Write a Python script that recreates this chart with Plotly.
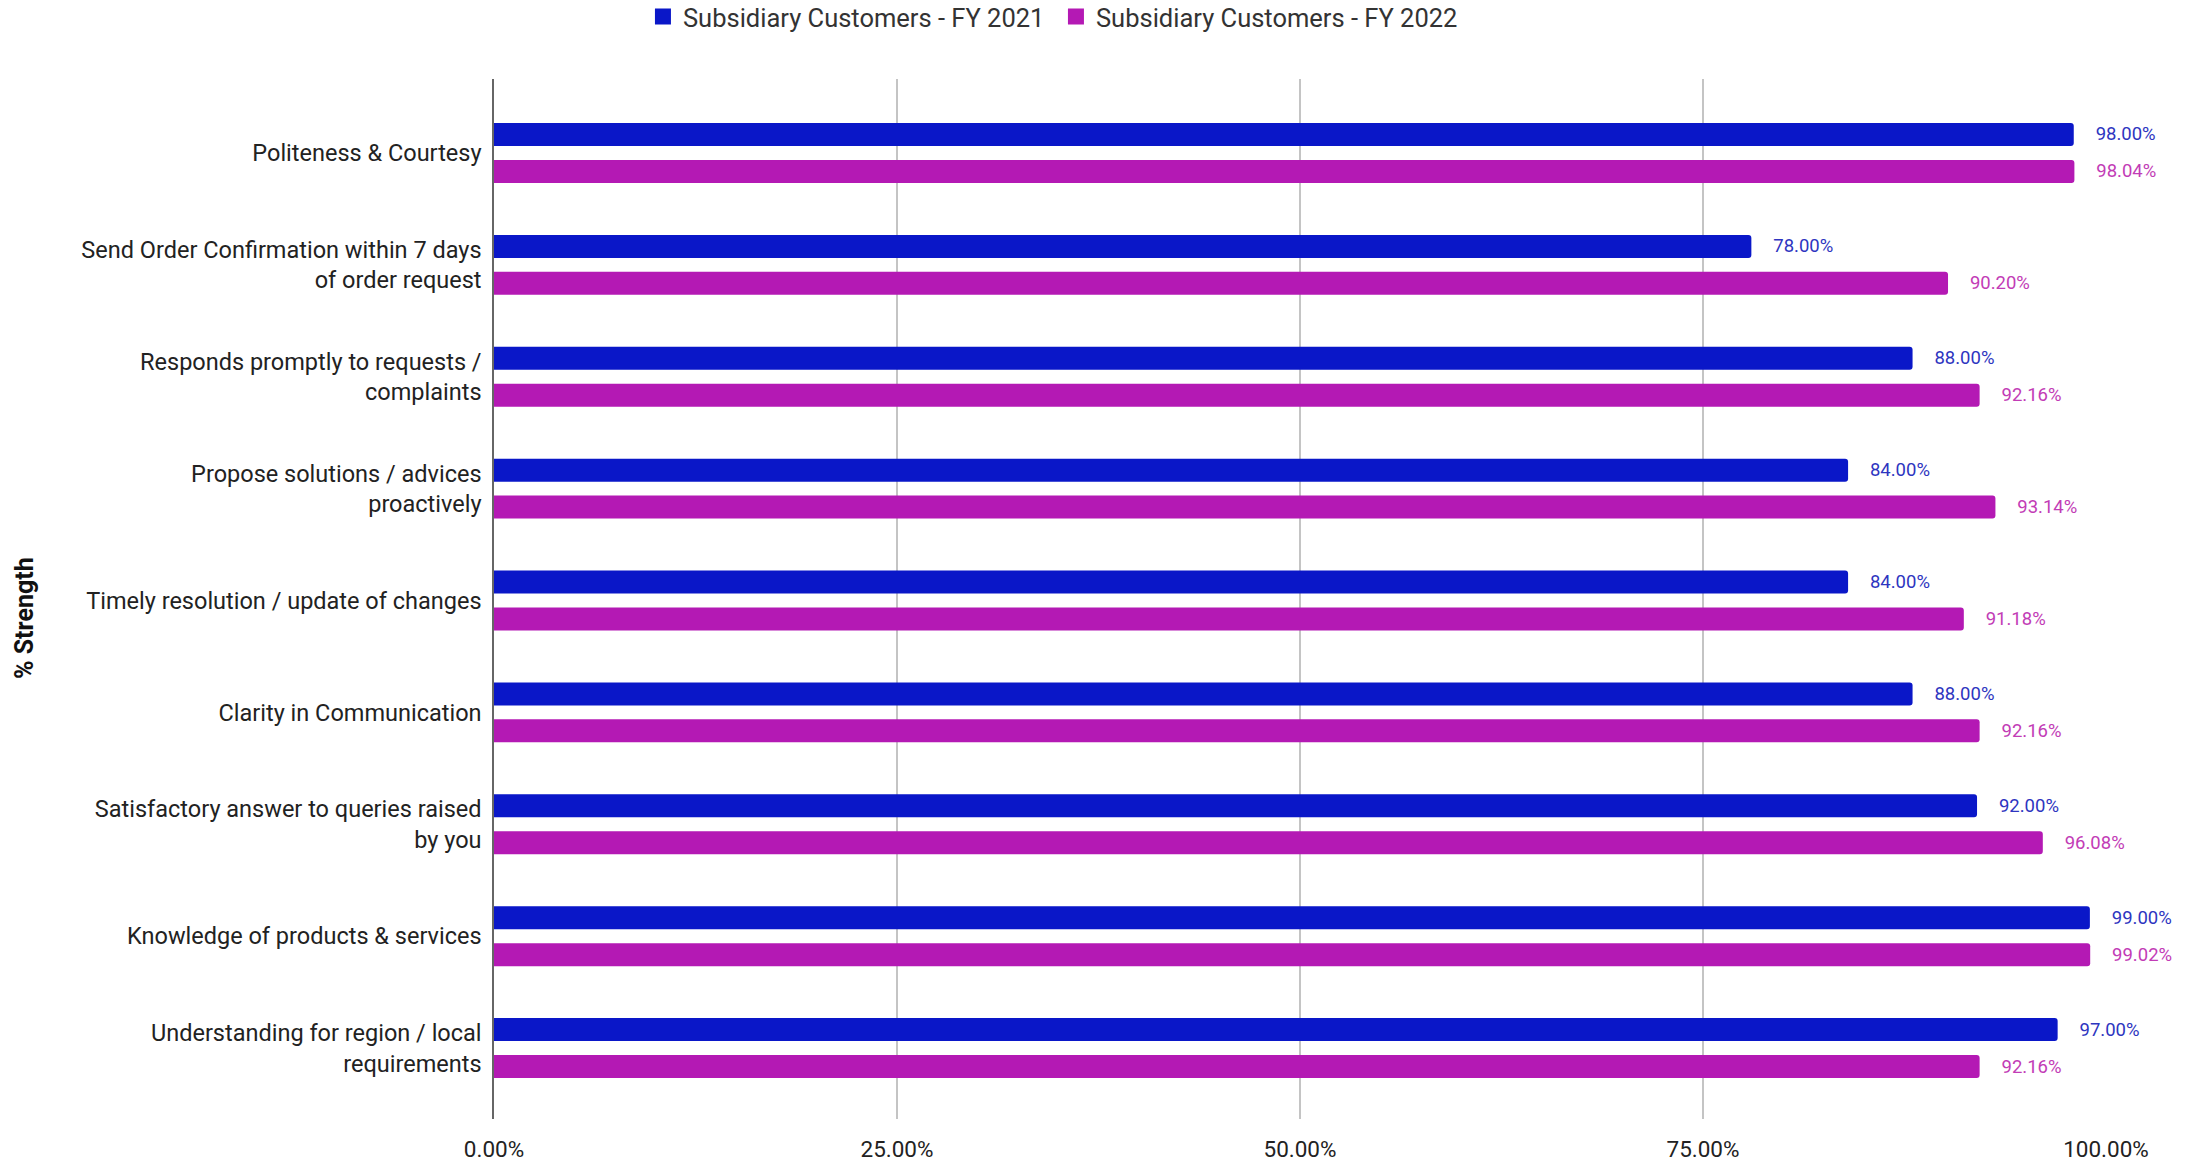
import plotly.graph_objects as go

# Survey attributes, top to bottom
categories = [
    "Politeness & Courtesy",
    "Send Order Confirmation within 7 days<br>of order request",
    "Responds promptly to requests /<br>complaints",
    "Propose solutions / advices<br>proactively",
    "Timely resolution / update of changes",
    "Clarity in Communication",
    "Satisfactory answer to queries raised<br>by you",
    "Knowledge of products & services",
    "Understanding for region / local<br>requirements",
]

# % strength per attribute
fy2021 = [98.00, 78.00, 88.00, 84.00, 84.00, 88.00, 92.00, 99.00, 97.00]
fy2022 = [98.04, 90.20, 92.16, 93.14, 91.18, 92.16, 96.08, 99.02, 92.16]

series_names = ["Subsidiary Customers - FY 2021", "Subsidiary Customers - FY 2022"]
tick_values = [0, 25, 50, 75, 100]
tick_labels = ["0.00%", "25.00%", "50.00%", "75.00%", "100.00%"]

bar_colors = ["#0a17c8", "#b419b4"]
label_colors = ["#2e35c0", "#c23cb6"]

FONT = "Roboto"
PAD = "\u2002\u2002"

fig = go.Figure()
for name, vals, col, lcol in zip(series_names, [fy2021, fy2022], bar_colors, label_colors):
    fig.add_trace(go.Bar(
        name=name,
        y=categories,
        x=vals,
        orientation="h",
        marker=dict(color=col, line=dict(width=0), cornerradius=3),
        text=[f"{PAD}{v:.2f}%" for v in vals],
        textposition="outside",
        constraintext="none",
        cliponaxis=False,
        textfont=dict(family=FONT, size=18.5, color=lcol, shadow="0px 0px 3px white"),
        hoverinfo="skip",
        showlegend=False,
    ))

# square swatches for the legend
for name, col in zip(series_names, bar_colors):
    fig.add_trace(go.Scatter(
        name=name,
        x=[None], y=[None],
        mode="markers",
        marker=dict(symbol="square", size=16, color=col),
        hoverinfo="skip",
    ))

fig.update_layout(
    width=2202,
    height=1162,
    paper_bgcolor="white",
    plot_bgcolor="white",
    barmode="group",
    bargap=0.34,
    bargroupgap=0.377,
    margin=dict(l=494, r=96, t=79, b=43, autoexpand=False),
    font=dict(family=FONT, color="#222222"),
    legend=dict(
        orientation="h",
        x=0.0924, xanchor="left",
        y=1.0596, yref="paper", yanchor="middle",
        font=dict(family=FONT, size=25.5, color="#333333"),
        itemsizing="trace",
        traceorder="normal",
        entrywidth=368,
        entrywidthmode="pixels",
    ),
    xaxis=dict(
        range=[0, 100],
        tickvals=tick_values,
        ticktext=tick_labels,
        showgrid=True,
        gridcolor="#c4c4c4",
        gridwidth=1.5,
        zeroline=False,
        showline=False,
        ticks="",
        ticklabelstandoff=14,
        automargin=False,
        tickfont=dict(family=FONT, size=22.5, color="#222222"),
    ),
    yaxis=dict(
        type="category",
        categoryorder="array",
        categoryarray=categories,
        range=[8.634, -0.661],
        showgrid=False,
        zeroline=False,
        showline=True,
        linecolor="#666666",
        linewidth=1.5,
        ticks="",
        ticklabelstandoff=6,
        automargin=False,
        tickfont=dict(family=FONT, size=23.5, color="#222222"),
    ),
    annotations=[dict(
        text="<b>% Strength</b>",
        xref="paper", yref="paper",
        x=-0.2916, y=0.4817,
        xanchor="center", yanchor="middle",
        textangle=-90,
        showarrow=False,
        font=dict(family=FONT, size=25, color="#111111"),
    )],
)

fig.write_html("out.html")
